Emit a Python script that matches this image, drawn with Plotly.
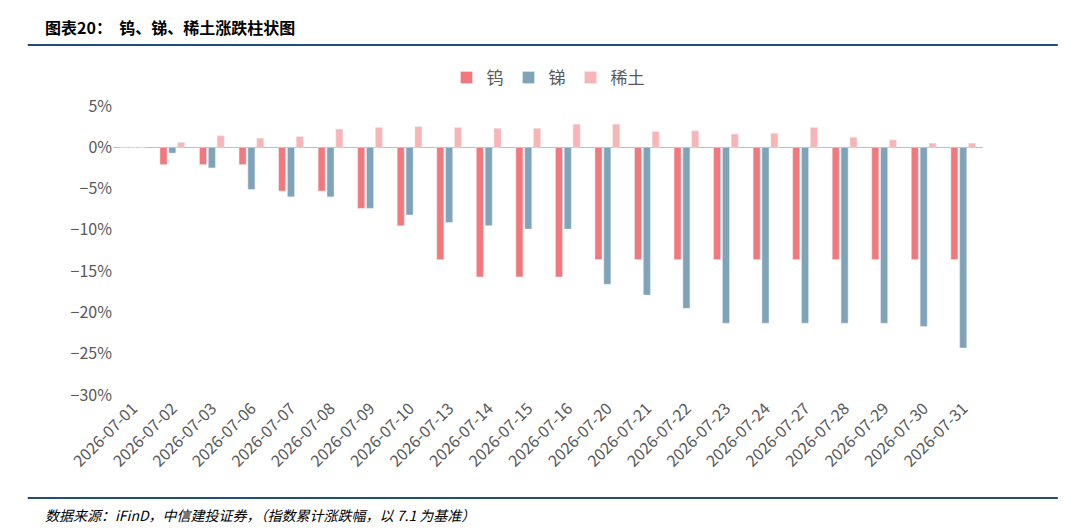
import plotly.graph_objects as go

dates = ["2026-07-01", "2026-07-02", "2026-07-03", "2026-07-06", "2026-07-07", "2026-07-08",
         "2026-07-09", "2026-07-10", "2026-07-13", "2026-07-14", "2026-07-15", "2026-07-16",
         "2026-07-20", "2026-07-21", "2026-07-22", "2026-07-23", "2026-07-24", "2026-07-27",
         "2026-07-28", "2026-07-29", "2026-07-30", "2026-07-31"]
tungsten = [0, -2.1, -2.1, -2.1, -5.3, -5.3, -7.4, -9.5, -13.6, -15.7, -15.7, -15.7,
            -13.6, -13.6, -13.6, -13.6, -13.6, -13.6, -13.6, -13.6, -13.6, -13.6]
antimony = [0, -0.7, -2.5, -5.1, -6.0, -6.0, -7.4, -8.2, -9.1, -9.5, -9.9, -9.9,
            -16.6, -17.9, -19.5, -21.3, -21.3, -21.3, -21.3, -21.3, -21.7, -24.3]
rare_earth = [0, 0.6, 1.4, 1.1, 1.3, 2.2, 2.4, 2.5, 2.4, 2.3, 2.3, 2.8,
              2.8, 1.9, 2.0, 1.6, 1.7, 2.4, 1.2, 0.9, 0.5, 0.5]

fig = go.Figure()
fig.add_bar(x=dates, y=[v / 100 for v in tungsten], name="钨", marker_color="#F4777B")
fig.add_bar(x=dates, y=[v / 100 for v in antimony], name="锑", marker_color="#7FA3B8")
fig.add_bar(x=dates, y=[v / 100 for v in rare_earth], name="稀土", marker_color="#F9B4B5")

fig.update_layout(
    width=1080, height=531, plot_bgcolor="white", paper_bgcolor="white",
    font=dict(family="Noto Sans CJK SC", size=15, color="#595959"),
    barmode="group", bargap=0.33, bargroupgap=0.2,
    margin=dict(l=105, r=105, t=98, b=144),
    legend=dict(orientation="h", x=0.5, xanchor="center", y=1.097, yanchor="middle",
                font=dict(size=17, color="#595959")),
    xaxis=dict(type="category", tickangle=-45, tickfont=dict(size=16), showline=False),
    yaxis=dict(range=[-0.30, 0.05], tickformat=".0%", dtick=0.05, showgrid=False,
               zeroline=True, zerolinecolor="#BFBFBF", zerolinewidth=1,
               tickfont=dict(size=16)),
    shapes=[
        dict(type="line", xref="paper", yref="paper", x0=-0.098, x1=1.086, y0=1.211, y1=1.211,
             line=dict(color="#1F4E79", width=2)),
        dict(type="line", xref="paper", yref="paper", x0=-0.098, x1=1.086, y0=-0.356, y1=-0.356,
             line=dict(color="#1F4E79", width=2)),
    ],
    annotations=[
        dict(text="<b>图表20：  钨、锑、稀土涨跌柱状图</b>", xref="paper", yref="paper",
             x=-0.08, y=1.273, xanchor="left", yanchor="middle", showarrow=False,
             font=dict(size=16, color="#000000")),
        dict(text="<i>数据来源：iFinD，中信建投证券，（指数累计涨跌幅，以 7.1 为基准）</i>",
             xref="paper", yref="paper", x=-0.08, y=-0.415, xanchor="left", yanchor="middle",
             showarrow=False, font=dict(size=14, color="#000000")),
    ],
)

fig.write_html("out.html")
